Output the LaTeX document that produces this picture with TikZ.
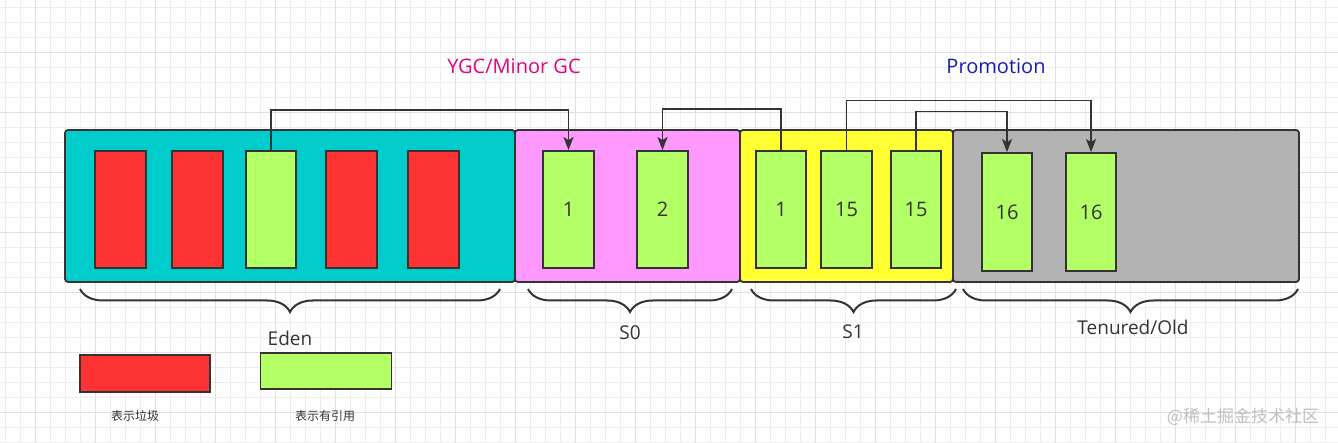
\documentclass[tikz,border=0pt]{standalone}
\usepackage{fontspec}
\setmainfont{Open Sans}
\newfontfamily\cjkfont{Noto Sans CJK SC}
\definecolor{edenteal}{RGB}{0, 204, 204}
\definecolor{szeropink}{RGB}{255, 153, 255}
\definecolor{soneyellow}{RGB}{255, 255, 51}
\definecolor{oldgray}{RGB}{179, 179, 179}
\definecolor{garbred}{RGB}{255, 51, 51}
\definecolor{livegreen}{RGB}{179, 255, 102}
\definecolor{edgegray}{RGB}{51, 51, 51}
\definecolor{ygcpink}{RGB}{230, 0, 125}
\definecolor{promoblue}{RGB}{26, 26, 178}
\usetikzlibrary{arrows.meta, decorations.pathreplacing}

\begin{document}
\begin{tikzpicture}[
  x=1pt, y=-1pt,
  gridminor/.style={draw=black!7, line width=0.8pt},
  gridmajor/.style={draw=black!12, line width=0.8pt},
  region/.style={draw=edgegray, line width=1.8pt, rounded corners=3pt, inner sep=0pt, minimum height=152pt},
  objbox/.style={draw=edgegray, line width=1.8pt, fill=livegreen, inner sep=0pt, minimum width=51pt, minimum height=117pt, font=\fontsize{20}{22}\selectfont, text=edgegray},
  junk/.style={objbox, fill=garbred},
  flow/.style={draw=edgegray, line width=1.7pt, -{Stealth[length=13pt, width=10pt, inset=3pt]}},
  areabrace/.style={draw=edgegray, line width=2pt, decorate, decoration={brace, mirror, amplitude=23pt}},
  arealabel/.style={font=\fontsize{19}{21}\selectfont, text=edgegray},
  title/.style={font=\fontsize{20}{22}\selectfont},
  keytext/.style={font=\cjkfont\fontsize{12}{14}\selectfont, text=edgegray}
]
  \useasboundingbox (0,0) rectangle (1338,443);
  \fill[white] (0,0) rectangle (1338,443);
  % background grid
  \foreach \gx in {5,20,...,1335} \draw[gridminor] (\gx,0) -- (\gx,443);
  \foreach \gy in {7,22,...,442} \draw[gridminor] (0,\gy) -- (1338,\gy);
  \foreach \gx in {35,95,...,1295} \draw[gridmajor] (\gx,0) -- (\gx,443);
  \foreach \gy in {52,112,...,412} \draw[gridmajor] (0,\gy) -- (1338,\gy);

  % heap areas
  \node[region, fill=edenteal, minimum width=450pt] (eden) at (290,206) {};
  \node[region, fill=szeropink, minimum width=225pt] (szero) at (627.5,206) {};
  \node[region, fill=soneyellow, minimum width=213pt] (sone) at (846.5,206) {};
  \node[region, fill=oldgray, minimum width=346pt] (old) at (1126,206) {};

  % objects
  \node[junk] (e1) at (120.5,209.5) {};
  \node[junk] (e2) at (197.5,209.5) {};
  \node[objbox, minimum width=50pt] (e3) at (271,209.5) {};
  \node[junk] (e4) at (351.5,209.5) {};
  \node[junk] (e5) at (433.5,209.5) {};
  \node[objbox] (sa1) at (568.5,209.5) {1};
  \node[objbox] (sa2) at (662.5,209.5) {2};
  \node[objbox, minimum width=50pt] (sb1) at (781,209.5) {1};
  \node[objbox] (sb2) at (846.5,209.5) {15};
  \node[objbox, minimum width=50pt] (sb3) at (916,209.5) {15};
  \node[objbox, minimum height=118pt, minimum width=50pt] (o1) at (1007,212) {16};
  \node[objbox, minimum height=118pt, minimum width=50pt] (o2) at (1091,212) {16};

  % copies and promotion
  \draw[flow] (e3.north) -- ++(0,-40) -| (sa1.north);
  \draw[flow] (sb1.north) -- ++(0,-41) -| (sa2.north);
  \draw[flow] (sb2.north) -- ++(0,-49.5) -| (o2.north);
  \draw[flow] (sb3.north) -- ++(0,-38.5) -| (o1.north);

  \node[title, text=ygcpink] (ygc) at (514,66) {YGC/Minor GC};
  \node[title, text=promoblue] (promo) at (996,66) {Promotion};

  % braces
  \draw[areabrace] (80,289) -- (500,289);
  \draw[areabrace] (528,289) -- (732,289);
  \draw[areabrace] (751,289) -- (956,289);
  \draw[areabrace] (963,289) -- (1298,289);
  \node[arealabel] (edenlbl) at (290,338) {Eden};
  \node[arealabel] (szerolbl) at (630,333) {S0};
  \node[arealabel] (sonelbl) at (853,332) {S1};
  \node[arealabel] (oldlbl) at (1133,327) {Tenured/Old};

  % legend
  \node[junk, minimum width=130pt, minimum height=37pt] (keyred) at (145,373.5) {};
  \node[objbox, minimum width=131pt, minimum height=36pt] (keygreen) at (326,371) {};
  \node[keytext] (keyredlbl) at (135,416) {表示垃圾};
  \node[keytext] (keygreenlbl) at (325,416) {表示有引用};

  \node[font=\cjkfont\fontsize{17}{19}\selectfont, text=black!25] (mark) at (1243,417) {@稀土掘金技术社区};
\end{tikzpicture}
\end{document}
